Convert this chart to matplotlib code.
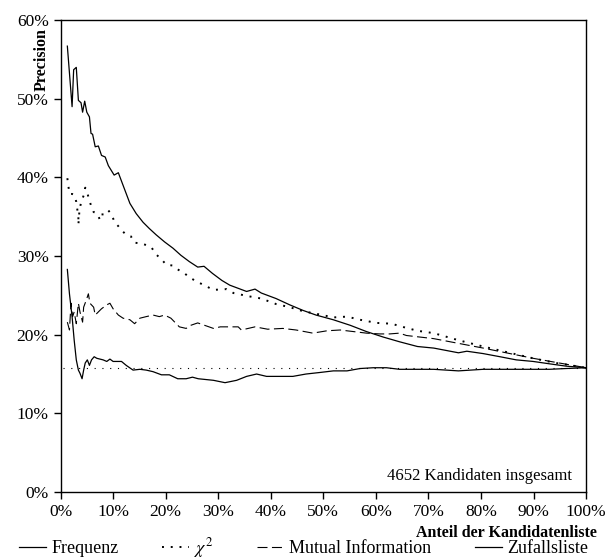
import matplotlib
matplotlib.use('Agg')
import matplotlib.pyplot as plt
from matplotlib.ticker import PercentFormatter

plt.rcParams['font.family'] = ['Liberation Serif', 'DejaVu Serif']
plt.rcParams['mathtext.fontset'] = 'stix'

# Frequenz
freq_x = [1.3, 2.2, 2.5, 3.0, 3.4, 3.9, 4.2, 4.6, 5.0, 5.5, 5.8, 6.1, 6.6, 7.2, 7.8, 8.5, 9.1, 10.2, 11.0,
          11.9, 13.2, 14.4, 15.7, 16.9, 18.2, 19.8, 21.4, 22.9, 24.5, 26.1, 27.3, 28.9, 30.7, 32.2, 33.8,
          35.4, 37.0, 38.2, 41.0, 43.6, 46.1, 48.6, 51.9, 55.1, 58.2, 61.4, 64.5, 67.9, 71, 75.7, 77.3,
          80.4, 83.6, 86.7, 89.9, 93, 96.2, 100]
freq_y = [56.7, 49, 53.7, 54, 49.8, 49.5, 48.3, 49.7, 48.3, 47.7, 45.6, 45.5, 43.9, 44, 42.8, 42.6, 41.5,
          40.3, 40.6, 39, 36.7, 35.4, 34.3, 33.5, 32.7, 31.8, 31, 30.1, 29.3, 28.6, 28.7, 27.8, 26.9, 26.3,
          25.9, 25.5, 25.8, 25.3, 24.6, 23.8, 23.1, 22.5, 21.9, 21.2, 20.4, 19.7, 19.1, 18.5, 18.3, 17.7,
          17.9, 17.6, 17.2, 16.8, 16.6, 16.3, 16.0, 15.8]

# chi^2
chi_x = [1.3, 1.5, 1.7, 2.2, 2.6, 3.0, 3.2, 3.4, 3.4, 3.6, 3.9, 4.4, 4.7, 5.1, 5.5, 5.9, 6.3, 7.0, 7.5,
         7.8, 8.5, 9.1, 9.7, 10.3, 11.0, 11.6, 12.5, 13.4, 14.1, 15.4, 16.3, 17.3, 18.2, 19.2, 20.1, 21.3,
         22.3, 23.6, 24.5, 25.8, 29.1, 31.6, 32.9, 35.7, 38.2, 41.0, 43.6, 46.1, 49.1, 51.9, 54.5, 57.0,
         60.1, 63.0, 64.5, 67.9, 71, 75.7, 80.4, 84.8, 89.9, 94.3, 100]
chi_y = [39.9, 38.9, 37.9, 37.9, 37.8, 36.9, 35.9, 35.0, 34.0, 35.8, 36.8, 37.7, 38.7, 38.0, 37.1, 36.2,
         35.6, 35.4, 34.6, 35.3, 35.3, 35.8, 35.3, 34.3, 33.8, 33.3, 32.7, 32.5, 31.7, 31.6, 31.4, 31.1,
         30.2, 29.6, 28.9, 28.8, 28.3, 27.8, 27.3, 26.8, 25.7, 25.8, 25.3, 24.9, 24.6, 23.9, 23.5, 23.0,
         22.6, 22.2, 22.3, 21.9, 21.5, 21.4, 21.1, 20.5, 20.2, 19.3, 18.5, 17.8, 17.0, 16.4, 15.8]

# Mutual Information
mi_x = [1.3, 1.7, 2.0, 2.3, 2.6, 3.0, 3.4, 3.7, 4.2, 4.4, 4.9, 5.3, 5.6, 6.3, 6.6, 7.2, 7.8, 8.8, 9.4,
        10.0, 11.0, 11.9, 13.2, 14.1, 15.1, 16.3, 17.6, 18.8, 19.8, 21.0, 22.6, 23.9, 24.8, 26.1, 29.1,
        30.4, 33.8, 34.4, 37.0, 39.4, 42.3, 44.8, 48.0, 50.7, 53.2, 55.7, 58.2, 60.7, 62.6, 64.5, 65.8, 71,
        75.7, 80.4, 85.5, 89.9, 94.9, 100]
mi_y = [21.6, 20.6, 24.0, 22.3, 22.9, 21.4, 24.0, 22.9, 21.6, 23.5, 24.4, 25.2, 24.0, 23.5, 22.5, 22.9,
        23.3, 23.8, 24.0, 23.3, 22.5, 22.1, 21.9, 21.4, 22.1, 22.3, 22.5, 22.3, 22.5, 22.1, 21.0, 20.8,
        21.2, 21.5, 20.8, 21.0, 21.0, 20.6, 21.0, 20.7, 20.8, 20.6, 20.2, 20.5, 20.6, 20.4, 20.2, 20.1,
        20.1, 20.2, 19.9, 19.5, 18.9, 18.3, 17.6, 17.0, 16.4, 15.8]

# Zufallsliste
rand_x = [1.3, 1.7, 2.2, 2.6, 3.0, 3.4, 3.7, 4.1, 4.4, 4.7, 5.1, 5.5, 5.9, 6.4, 6.9, 7.5, 8.1, 8.8, 9.4,
          10.0, 11.6, 12.5, 13.8, 15.1, 16.3, 17.6, 19.2, 20.7, 22.3, 23.9, 25.1, 26.2, 29.1, 31.3, 33.5,
          35.4, 37.3, 39.2, 41.7, 44.2, 46.7, 49.4, 51.9, 54.5, 57.0, 59.5, 62.0, 64.5, 71, 75.7, 80.4,
          86.7, 93, 96.2, 100]
rand_y = [28.3, 25.2, 22.3, 19.3, 16.8, 15.5, 15.1, 14.4, 15.5, 16.4, 16.8, 16.1, 16.8, 17.2, 17.0, 16.9,
          16.8, 16.6, 16.9, 16.6, 16.6, 16.1, 15.5, 15.6, 15.5, 15.3, 14.9, 14.9, 14.4, 14.4, 14.6, 14.4,
          14.2, 13.9, 14.2, 14.7, 15.0, 14.7, 14.7, 14.7, 15.0, 15.2, 15.4, 15.4, 15.7, 15.8, 15.8, 15.6,
          15.6, 15.4, 15.6, 15.6, 15.6, 15.7, 15.8]

baseline = 15.8

fig = plt.figure(figsize=(6.07, 5.59), dpi=100)
ax = fig.add_axes([0.0997, 0.1199, 0.866, 0.844])

l1, = ax.plot(freq_x, freq_y, color='black', lw=0.9, label='Frequenz')
l2, = ax.plot(chi_x, chi_y, color='black', lw=1.4, linestyle=(0, (1, 3.5)), label=r'$\chi^2$')
l3, = ax.plot(mi_x, mi_y, color='black', lw=0.8, linestyle=(0, (9, 4)), label='Mutual Information')
l4, = ax.plot(rand_x, rand_y, color='black', lw=0.9, label='Zufallsliste')
ax.plot([0.5, 100], [baseline, baseline], color='black', lw=0.8, linestyle=(0, (1, 6)))

ax.set_xlim(0, 100)
ax.set_ylim(0, 60)
ax.set_xticks(range(0, 101, 10))
ax.set_yticks(range(0, 61, 10))
ax.xaxis.set_major_formatter(PercentFormatter(decimals=0))
ax.yaxis.set_major_formatter(PercentFormatter(decimals=0))
ax.tick_params(direction='out', length=5, width=1, labelsize=12.5, color='black')
for s in ax.spines.values():
    s.set_linewidth(1)

ax.text(-0.036, 0.983, 'Precision', rotation=90, fontweight='bold', fontsize=11.5,
        ha='center', va='top', transform=ax.transAxes)
ax.text(1.02, -0.087, 'Anteil der Kandidatenliste', fontweight='bold', fontsize=11.5,
        ha='right', va='center', transform=ax.transAxes)
ax.text(0.973, 0.034, '4652 Kandidaten insgesamt', fontsize=12,
        ha='right', va='center', transform=ax.transAxes)

fig.legend(handles=[l1, l2, l3, l4], loc='center', bbox_to_anchor=(0.5, 0.02),
           ncol=4, frameon=False, fontsize=13, handlelength=1.5, handletextpad=0.3,
           columnspacing=2.4, borderpad=0, borderaxespad=0)

fig.savefig('out.png', dpi=100)
